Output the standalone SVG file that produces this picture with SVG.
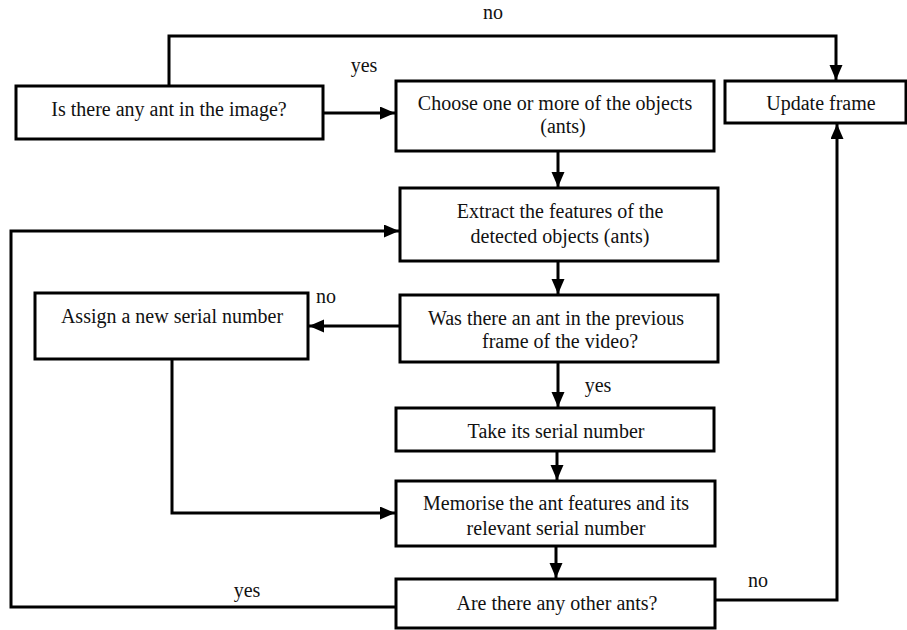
<svg xmlns="http://www.w3.org/2000/svg" width="907" height="630" viewBox="0 0 907 630">
<style>
.box{fill:#fff;stroke:#000;stroke-width:3}
.t{font-family:"Liberation Serif","Times New Roman",serif;font-size:20px;fill:#111;text-anchor:middle}
.c{fill:none;stroke:#000;stroke-width:3}
</style>
<defs>
<marker id="ah" markerUnits="userSpaceOnUse" markerWidth="16" markerHeight="14" refX="15" refY="6.5" orient="auto">
<path d="M0,0 L15,6.5 L0,13 z" fill="#000"/>
</marker>
</defs>
<rect width="907" height="630" fill="#fff"/>
<g id="connectors">
<path class="c" d="M169,86 V36 H836 V80" marker-end="url(#ah)"/>
<path class="c" d="M323,113 H395" marker-end="url(#ah)"/>
<path class="c" d="M558,151 V187" marker-end="url(#ah)"/>
<path class="c" d="M558,261 V294" marker-end="url(#ah)"/>
<path class="c" d="M400,326 H309" marker-end="url(#ah)"/>
<path class="c" d="M558,362 V407" marker-end="url(#ah)"/>
<path class="c" d="M557,451 V480" marker-end="url(#ah)"/>
<path class="c" d="M556,546 V578" marker-end="url(#ah)"/>
<path class="c" d="M172,359 V513 H395" marker-end="url(#ah)"/>
<path class="c" d="M396,607 H11 V231 H399" marker-end="url(#ah)"/>
<path class="c" d="M715,600 H837 V124" marker-end="url(#ah)"/>
<text class="t" x="493" y="19">no</text>
<text class="t" x="364" y="72">yes</text>
<text class="t" x="326" y="303">no</text>
<text class="t" x="598" y="392">yes</text>
<text class="t" x="247" y="597">yes</text>
<text class="t" x="758" y="587">no</text>
</g>
<g id="n1"><rect class="box" x="16" y="86" width="307" height="53"/><text class="t" x="169" y="116">Is there any ant in the image?</text></g>
<g id="n2"><rect class="box" x="396" y="81" width="318" height="70"/><text class="t" x="555" y="110">Choose one or more of the objects</text><text class="t" x="563" y="133">(ants)</text></g>
<g id="n3"><rect class="box" x="725" y="81" width="181" height="42"/><text class="t" x="821" y="110">Update frame</text></g>
<g id="n4"><rect class="box" x="400" y="188" width="318" height="73"/><text class="t" x="560" y="218">Extract the features of the</text><text class="t" x="560" y="243">detected objects (ants)</text></g>
<g id="n5"><rect class="box" x="400" y="295" width="318" height="67"/><text class="t" x="556" y="325">Was there an ant in the previous</text><text class="t" x="560" y="348">frame of the video?</text></g>
<g id="n6"><rect class="box" x="35" y="293" width="273" height="66"/><text class="t" x="172" y="323">Assign a new serial number</text></g>
<g id="n7"><rect class="box" x="396" y="408" width="318" height="43"/><text class="t" x="556" y="438">Take its serial number</text></g>
<g id="n8"><rect class="box" x="396" y="481" width="319" height="65"/><text class="t" x="556" y="510">Memorise the ant features and its</text><text class="t" x="556" y="535">relevant serial number</text></g>
<g id="n9"><rect class="box" x="396" y="579" width="319" height="49"/><text class="t" x="557" y="610">Are there any other ants?</text></g>
</svg>
